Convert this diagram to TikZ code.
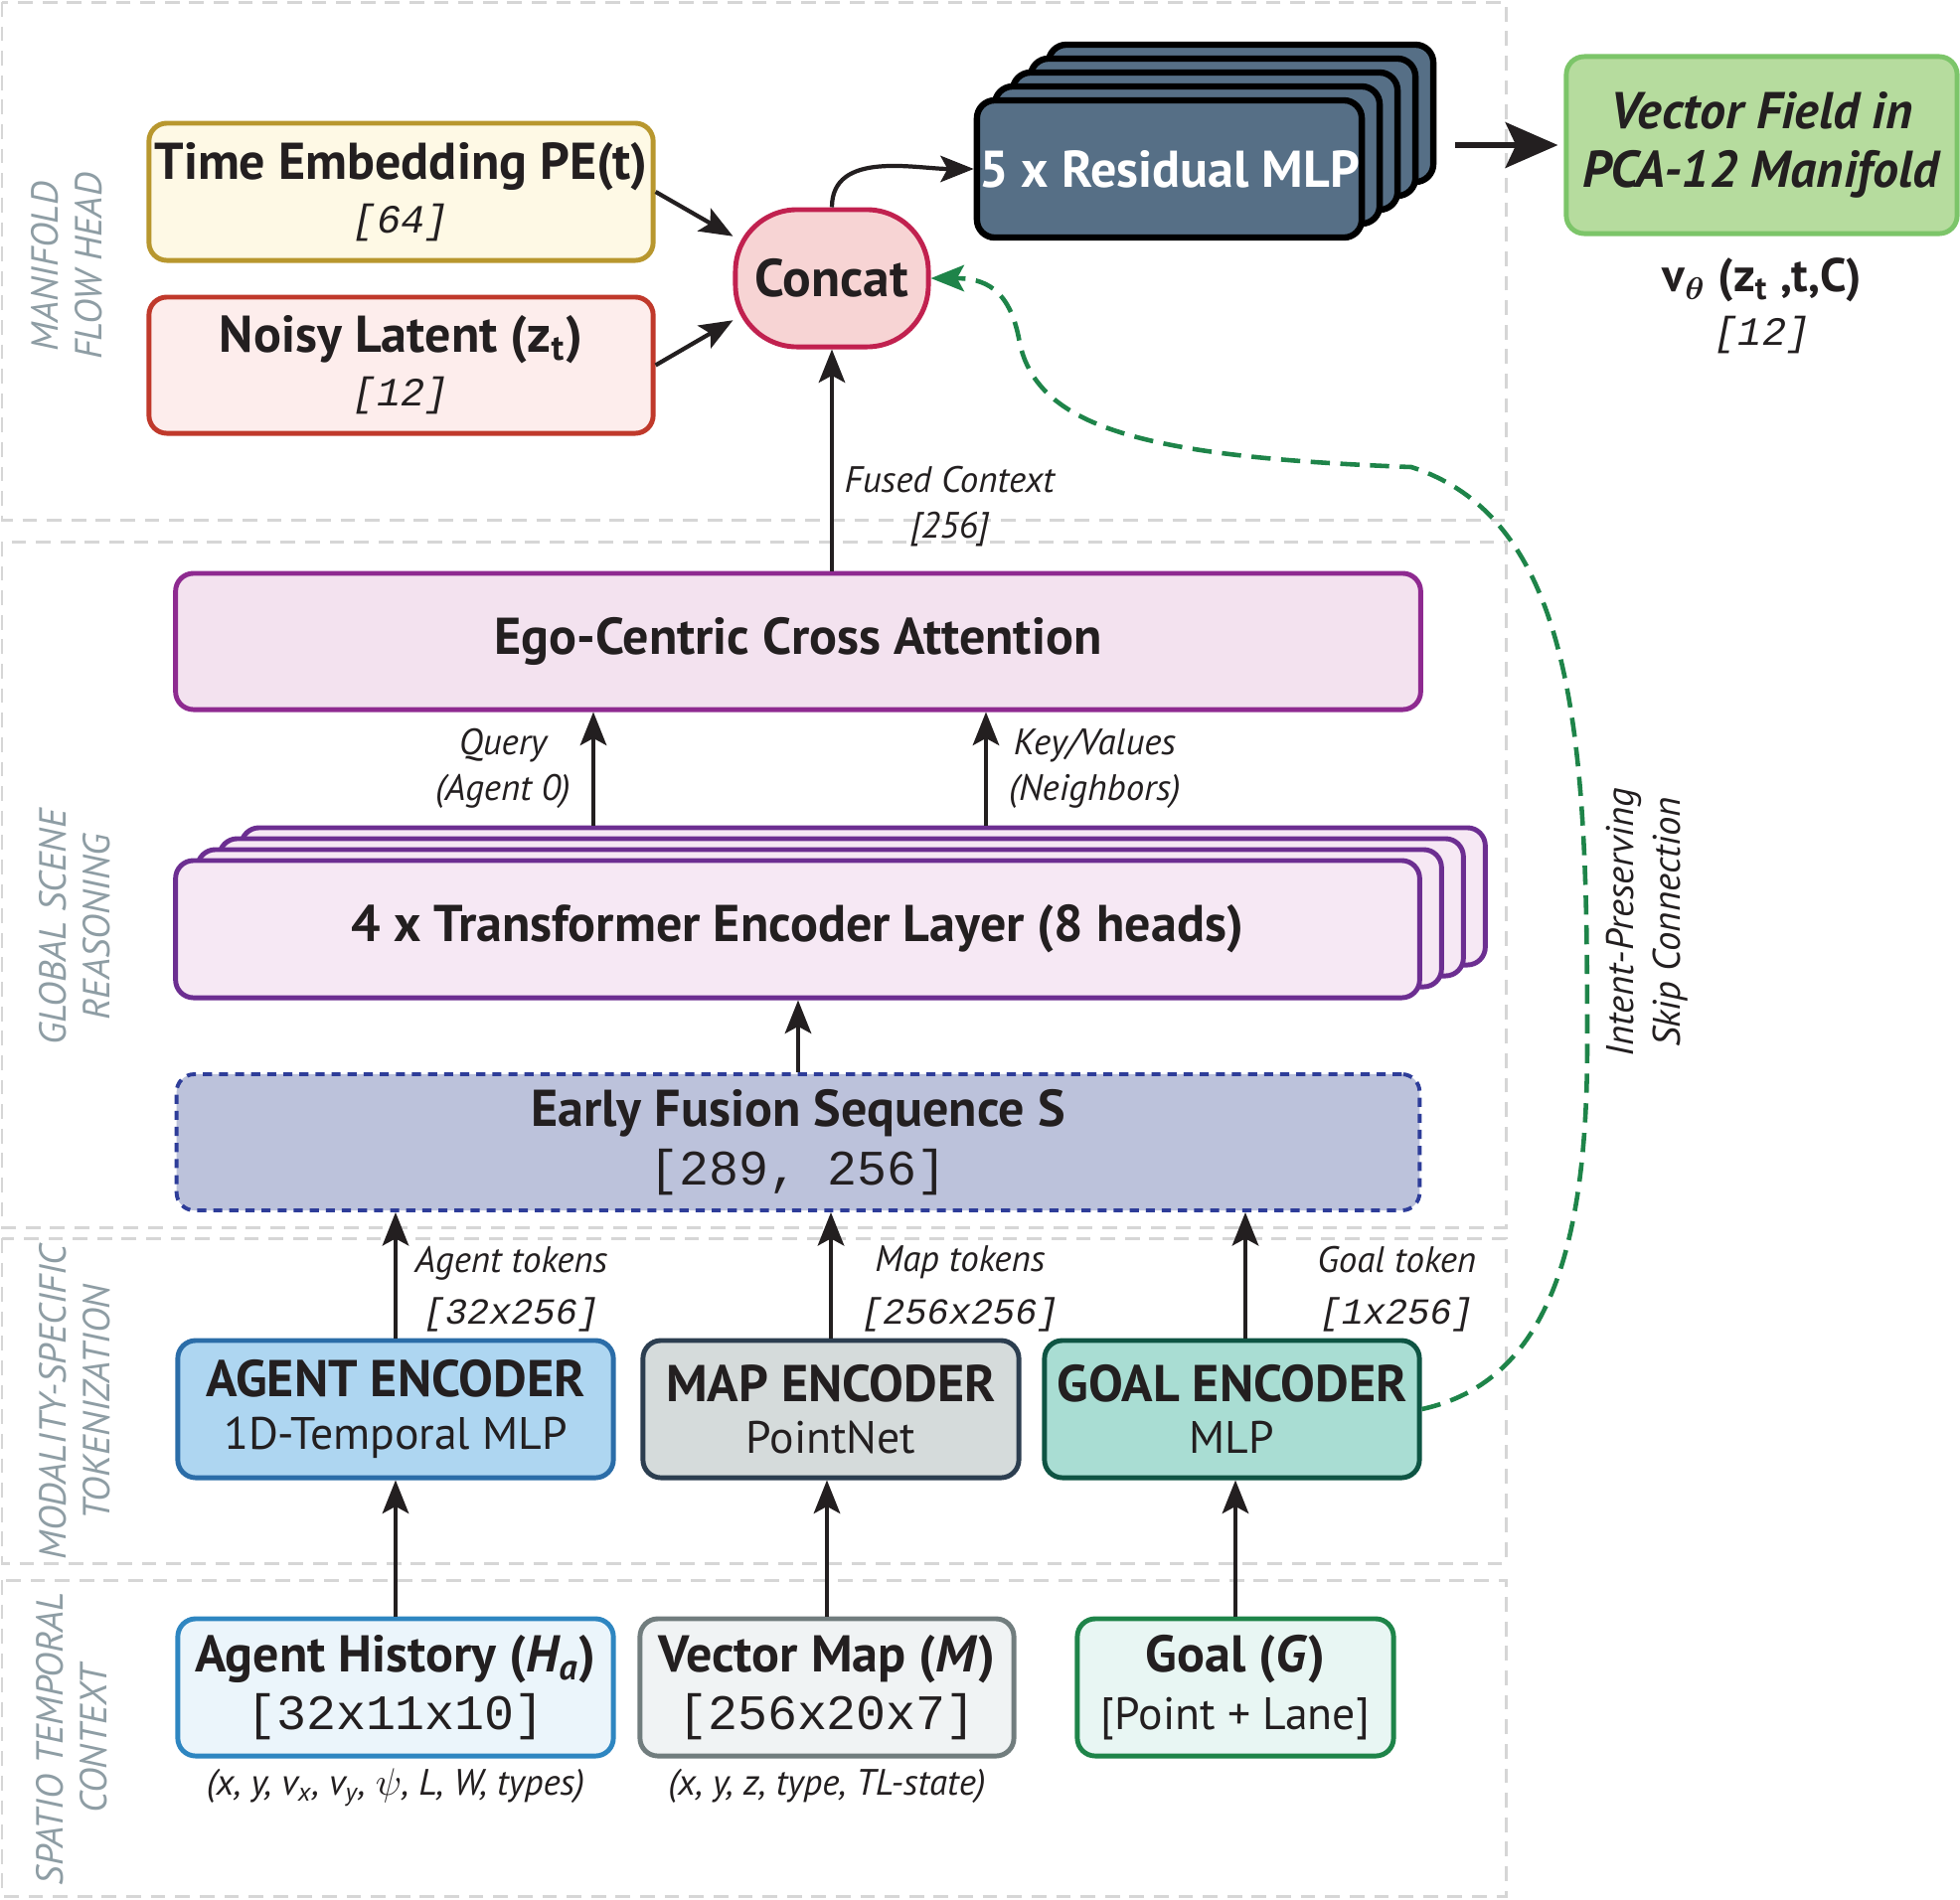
\documentclass[tikz,border=0pt]{standalone}
\usepackage{fontspec}
\setmainfont{PT Sans}
\setmonofont{Liberation Mono}
\usepackage{tikz}
\usetikzlibrary{arrows.meta}
\usetikzlibrary{positioning}
\usepackage{xcolor}

\definecolor{ink}{HTML}{231F20}
\definecolor{secgrey}{HTML}{D6D6D6}
\definecolor{seclbl}{HTML}{8E9DA4}
\definecolor{timefill}{HTML}{FEF9E5}
\definecolor{timeline}{HTML}{B8972E}
\definecolor{noisyfill}{HTML}{FDEDEC}
\definecolor{noisyline}{HTML}{C0392B}
\definecolor{concatfill}{HTML}{F7D4D4}
\definecolor{concatline}{HTML}{C1214F}
\definecolor{mlpfill}{HTML}{566F86}
\definecolor{vecfill}{HTML}{B6DC9E}
\definecolor{vecline}{HTML}{7CC569}
\definecolor{egofill}{HTML}{F3E2EF}
\definecolor{egoline}{HTML}{8E2A90}
\definecolor{trffill}{HTML}{F6E8F4}
\definecolor{trfline}{HTML}{6C2E91}
\definecolor{fusfill}{HTML}{BCC2DB}
\definecolor{fusline}{HTML}{2E3D99}
\definecolor{agencfill}{HTML}{AED6F1}
\definecolor{agencline}{HTML}{2B6DA8}
\definecolor{mapencfill}{HTML}{D5DBDB}
\definecolor{mapencline}{HTML}{2C3E50}
\definecolor{goalencfill}{HTML}{A9DDD3}
\definecolor{goalencline}{HTML}{0E5443}
\definecolor{histfill}{HTML}{EBF5FB}
\definecolor{histline}{HTML}{2E86C1}
\definecolor{vmapfill}{HTML}{F0F3F4}
\definecolor{vmapline}{HTML}{717D7E}
\definecolor{goalfill}{HTML}{E8F6F3}
\definecolor{goalline}{HTML}{1E8449}

% italic mono sizes: \dimtag in the flow head, \toktag on token arrows
\newcommand{\dimtag}[1]{{\fontsize{11.5}{12}\selectfont\ttfamily\itshape #1}}
\newcommand{\toktag}[1]{{\fontsize{10.5}{12}\selectfont\ttfamily\itshape #1}}
\newcommand{\shapetag}[1]{{\fontsize{14.2}{15}\selectfont\ttfamily #1}}
\newcommand{\subline}[1]{{\fontsize{13}{15}\selectfont #1}}

\begin{document}
\begin{tikzpicture}[x=0.01cm, y=-0.01cm, >={Stealth[length=9.5pt,width=7.5pt,inset=2pt]}]
\tikzstyle{block} = [draw, rounded corners=0.18cm, line width=1.4pt, align=center, inner sep=0pt, text=ink, font=\fontsize{14.8}{15.4}\selectfont]
\tikzstyle{mlpbox} = [block, fill=mlpfill, draw=black, line width=1.8pt, minimum width=3.87cm, minimum height=1.38cm]
\tikzstyle{trfbox} = [block, fill=trffill, draw=trfline, minimum width=12.51cm, minimum height=1.38cm]
\tikzstyle{section} = [draw=secgrey, line width=0.85pt, dash pattern=on 4.2pt off 2.8pt]
\tikzstyle{seclabel} = [rotate=90, align=center, text=seclbl, font=\fontsize{10.8}{12.5}\selectfont\itshape]
\tikzstyle{note} = [align=center, text=ink, inner sep=0pt, font=\fontsize{10.5}{13}\selectfont\itshape]
\tikzstyle{arr} = [->, line width=1.2pt, draw=ink]

\useasboundingbox (0,0) rectangle (1972,1911);

% stage bands
\draw[section] (2,2) rectangle (1515,523);
\draw[section] (2,545) rectangle (1515,1235);
\draw[section] (2,1246) rectangle (1515,1573);
\draw[section] (2,1590) rectangle (1515,1908);

\node[seclabel] (lblhead) at (67,268) {MANIFOLD\\FLOW HEAD};
\node[seclabel] (lblscene) at (75,933) {GLOBAL SCENE\\REASONING};
\node[seclabel] (lbltoken) at (75,1411) {MODALITY-SPECIFIC\\TOKENIZATION};
\node[seclabel] (lblctx) at (72,1750) {SPATIO TEMPORAL\\CONTEXT};

% flow head
\node[block, fill=timefill, draw=timeline, minimum width=5.07cm, minimum height=1.38cm] (timeemb) at (403.5,193) {\textbf{Time Embedding PE(t)}\\\dimtag{[64]}};
\node[block, fill=noisyfill, draw=noisyline, minimum width=5.07cm, minimum height=1.37cm] (noisy) at (403.5,367.5) {\textbf{Noisy Latent (z\textsubscript{t})}\\\dimtag{[12]}};
\node[block, fill=concatfill, draw=concatline, rounded corners=0.62cm, minimum width=1.94cm, minimum height=1.38cm, font=\fontsize{15.2}{17}\selectfont] (concat) at (837,280) {\textbf{Concat}};

\foreach \k in {4,3,2,1}
  \node[mlpbox] (mlp\k) at ({1176.5+18*\k},{170-14*\k}) {};
\node[mlpbox, text=white] (mlp) at (1176.5,170) {\textbf{5 x Residual MLP}};

\node[block, fill=vecfill, draw=vecline, minimum width=3.93cm, minimum height=1.78cm] (vecfield) at (1772.5,146) {\textbf{\textit{Vector Field in}}\\[1.6pt]\textbf{\textit{PCA-12 Manifold}}};
\node[text=ink, inner sep=0pt, font=\fontsize{13.5}{16}\selectfont\bfseries] (vtheta) at (1773,282) {v\textsubscript{\boldmath$\theta$} (z\textsubscript{t} ,t,C)};
\node[inner sep=0pt, text=ink, below=0.13cm of vtheta] (vdim) {\dimtag{[12]}};

% scene reasoning
\node[block, fill=egofill, draw=egoline, minimum width=12.52cm, minimum height=1.37cm] (ego) at (803,645.5) {\textbf{Ego-Centric Cross Attention}};

\foreach \k in {3,2,1}
  \node[trfbox] (trf\k) at ({802.5+22*\k},{935-11*\k}) {};
\node[trfbox] (trf) at (802.5,935) {\textbf{4 x Transformer Encoder Layer (8 heads)}};

\node[block, fill=fusfill, draw=fusline, line width=1.1pt, dash pattern=on 2.6pt off 2pt, minimum width=12.5cm, minimum height=1.37cm] (fusion) at (803,1149.5) {\textbf{Early Fusion Sequence S}\\[1.3pt]\shapetag{[289, 256]}};

% tokenizers
\node[block, fill=agencfill, draw=agencline, minimum width=4.38cm, minimum height=1.38cm] (agentenc) at (398,1418) {\textbf{AGENT ENCODER}\\[-0.5pt]\subline{1D-Temporal MLP}};
\node[block, fill=mapencfill, draw=mapencline, minimum width=3.78cm, minimum height=1.38cm] (mapenc) at (836,1418) {\textbf{MAP ENCODER}\\[-0.5pt]\subline{PointNet}};
\node[block, fill=goalencfill, draw=goalencline, minimum width=3.77cm, minimum height=1.38cm] (goalenc) at (1239.5,1418) {\textbf{GOAL ENCODER}\\[-0.5pt]\subline{MLP}};

% raw inputs
\node[block, fill=histfill, draw=histline, minimum width=4.38cm, minimum height=1.38cm] (agenthist) at (398,1698) {\textbf{Agent History (\textit{H\textsubscript{a}})}\\[1pt]\shapetag{[32x11x10]}};
\node[block, fill=vmapfill, draw=vmapline, minimum width=3.76cm, minimum height=1.38cm] (vecmap) at (832,1698) {\textbf{Vector Map (\textit{M})}\\[1pt]\shapetag{[256x20x7]}};
\node[block, fill=goalfill, draw=goalline, minimum width=3.18cm, minimum height=1.38cm] (goal) at (1243,1698) {\textbf{Goal (\textit{G})}\\[1.2pt]\subline{[Point + Lane]}};

\node[note, below=0.1cm of agenthist] (histvars) {(x, y, v\textsubscript{x}, v\textsubscript{y}, $\psi$, L, W, types)};
\node[note, below=0.1cm of vecmap] (mapvars) {(x, y, z, type, TL-state)};

% connections
\coordinate (qx) at (597,0);
\coordinate (kx) at (992,0);
\coordinate (gx) at (1253,0);
\coordinate (mlpout) at ([xshift=0.19cm]mlp4.east);

\draw[arr] (agenthist.north) -- (agentenc.south);
\draw[arr] (vecmap.north) -- (vecmap.north |- mapenc.south);
\draw[arr] (goal.north) -- (goal.north |- goalenc.south);

\draw[arr] (agentenc.north) -- (agentenc.north |- fusion.south)
  node[note, pos=0.39, right=5pt] {Agent tokens\\[2pt]\toktag{[32x256]}};
\draw[arr] (mapenc.north) -- (mapenc.north |- fusion.south)
  node[note, pos=0.39, right=8pt] {Map tokens\\[2pt]\toktag{[256x256]}};
\draw[arr] (gx |- goalenc.north) -- (gx |- fusion.south)
  node[note, pos=0.39, right=20pt] {Goal token\\[2pt]\toktag{[1x256]}};

\draw[arr] (fusion.north) -- (fusion.north |- trf.south);
\draw[arr] (qx |- trf3.north) -- (qx |- ego.south)
  node[note, midway, left=6pt] {Query\\(Agent 0)};
\draw[arr] (kx |- trf3.north) -- (kx |- ego.south)
  node[note, midway, right=6pt] {Key/Values\\(Neighbors)};

\draw[arr] (concat.south |- ego.north) -- (concat.south)
  node[note, pos=0.29, right=3pt] {Fused Context\\{[256]}};
\draw[arr] (timeemb.east) -- (concat.157);
\draw[arr] (noisy.east) -- (concat.203);
\draw[arr] (concat.north) to[out=90, in=180] (mlp.west);
\draw[->, line width=1.7pt, draw=ink, >={Stealth[length=15pt,width=13pt,inset=3pt]}] (vecfield.west -| mlpout) -- ([xshift=-0.06cm]vecfield.west);

% goal skip path
\draw[->, goalline, line width=1.3pt, dash pattern=on 5.5pt off 3pt] (goalenc.east)
  .. controls (1560,1390) and (1597,1250) .. (1597,1050)
  .. controls (1597,760) and (1590,525) .. (1420,470)
  .. controls (1150,460) and (1040,430) .. (1025,340)
  .. controls (1015,290) and (990,280) .. (concat.east);
\node[note, rotate=90, font=\fontsize{11}{13.5}\selectfont\itshape] (skiplbl) at (1657,928) {Intent-Preserving\\Skip Connection};

\end{tikzpicture}
\end{document}
